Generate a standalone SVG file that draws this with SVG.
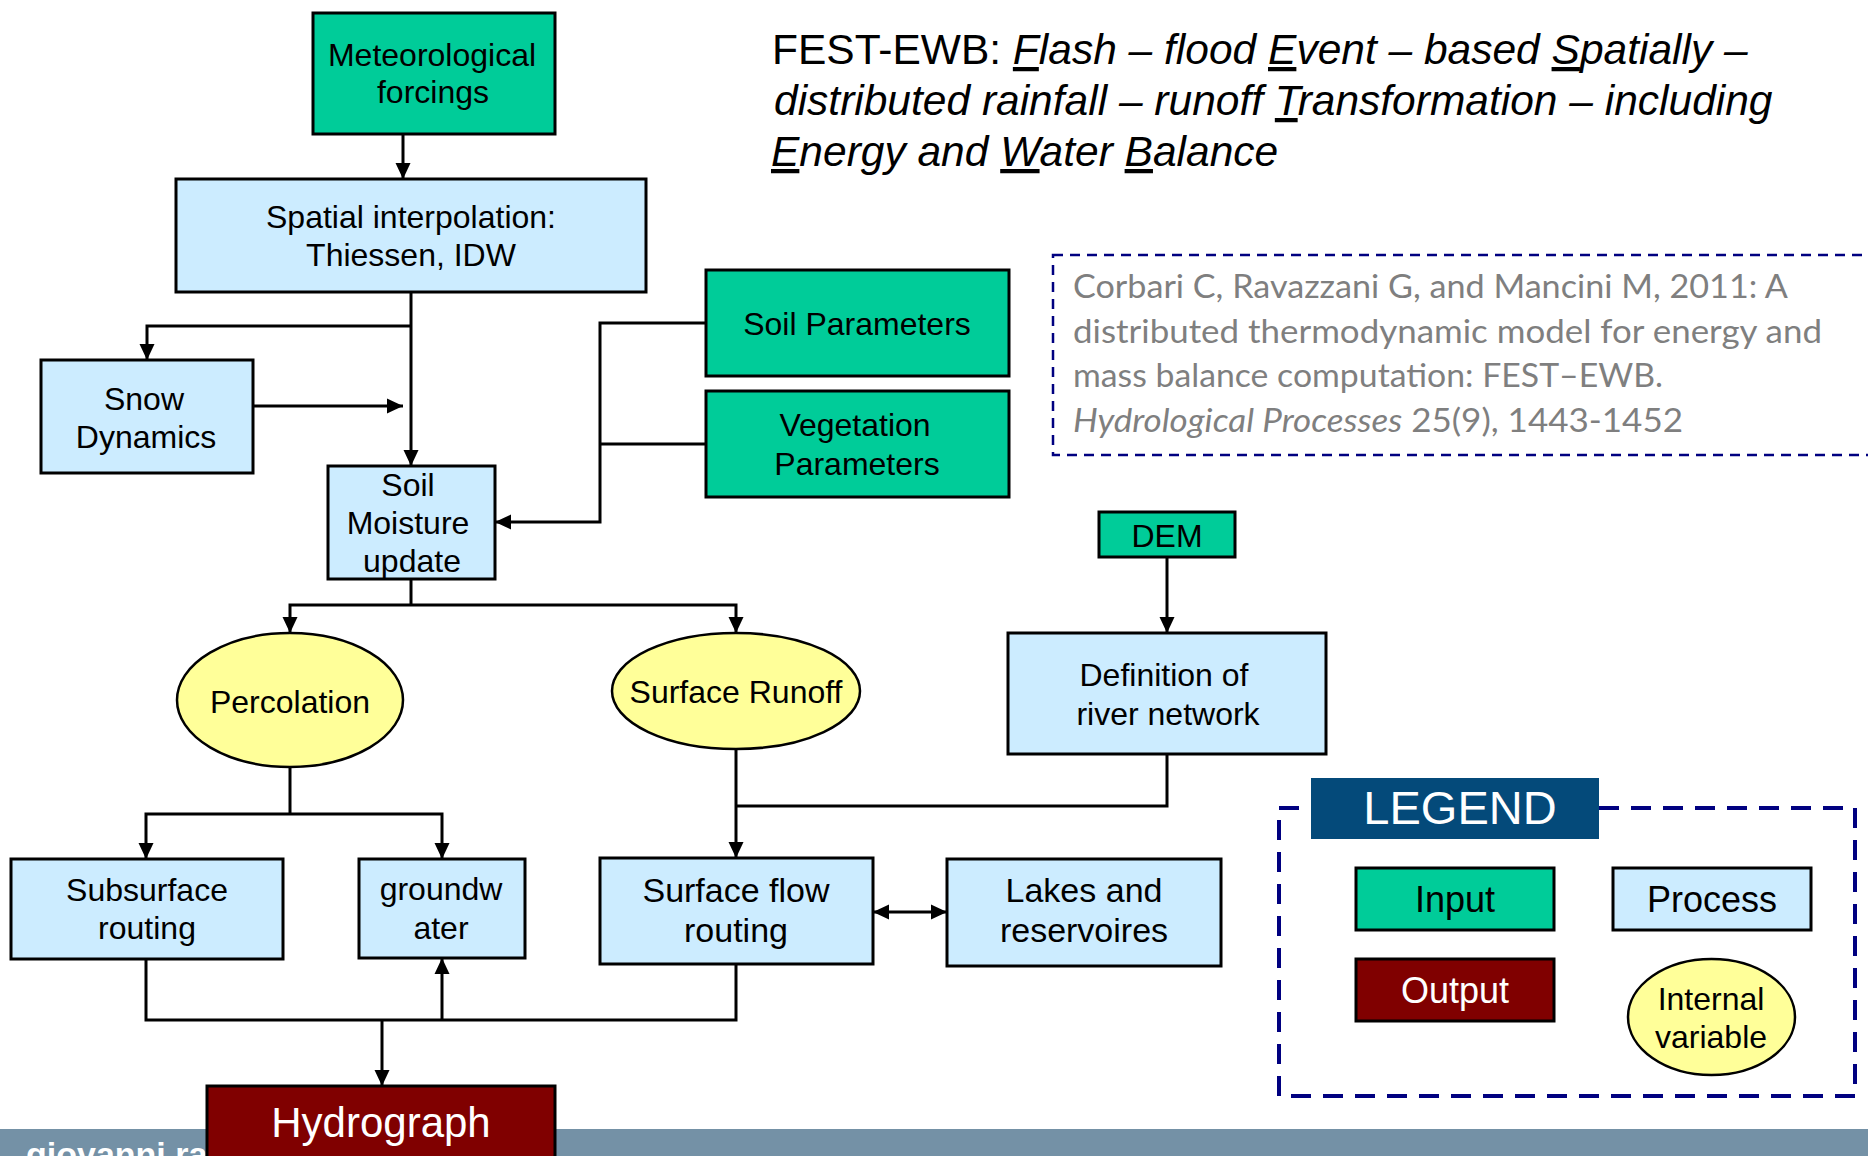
<svg xmlns="http://www.w3.org/2000/svg" width="1868" height="1156" viewBox="0 0 1868 1156">
<defs>
<marker id="arr" markerUnits="userSpaceOnUse" markerWidth="16" markerHeight="16" viewBox="0 0 16 16" refX="16" refY="8" orient="auto-start-reverse">
<path d="M0,0.5 L16,8 L0,15.5 z" fill="#000"/>
</marker>
<style>
.t{font-family:"Liberation Sans",Arial,sans-serif;font-size:32px;fill:#000;text-anchor:middle}
.inp{fill:#00CC99;stroke:#000;stroke-width:3}
.proc{fill:#CCECFF;stroke:#000;stroke-width:3}
.var{fill:#FFFF99;stroke:#000;stroke-width:2.5}
.out{fill:#800000;stroke:#000;stroke-width:3}
.c{fill:none;stroke:#000;stroke-width:3}
.cit{font-family:Lato,"Open Sans",sans-serif;font-size:33px;fill:#7F7F7F}
.ttl{font-family:"Liberation Sans",Arial,sans-serif;font-size:42.5px;fill:#000}
</style>
</defs>
<rect x="0" y="0" width="1868" height="1156" fill="#fff"/>

<!-- footer band -->
<g id="footer">
<rect x="0" y="1129" width="1868" height="27" fill="#7491A6"/>
<text x="26" y="1166" font-family="Liberation Sans,Arial,sans-serif" font-size="34" font-weight="bold" fill="#fff">giovanni ra</text>
</g>

<!-- title -->
<g id="title" class="ttl">
<text x="772" y="64">FEST-EWB: <tspan font-style="italic"><tspan text-decoration="underline">F</tspan>lash – flood <tspan text-decoration="underline">E</tspan>vent – based <tspan text-decoration="underline">S</tspan>patially –</tspan></text>
<text x="774" y="115" font-style="italic">distributed rainfall – runoff <tspan text-decoration="underline">T</tspan>ransformation – including</text>
<text x="771" y="166" font-style="italic"><tspan text-decoration="underline">E</tspan>nergy and <tspan text-decoration="underline">W</tspan>ater <tspan text-decoration="underline">B</tspan>alance</text>
</g>

<!-- citation -->
<g id="citation">
<rect x="1053" y="255" width="830" height="200" fill="none" stroke="#000080" stroke-width="2.5" stroke-dasharray="10 7"/>
<text class="cit" x="1073" y="298" textLength="715" lengthAdjust="spacingAndGlyphs">Corbari C, Ravazzani G, and Mancini M, 2011: A</text>
<text class="cit" x="1073" y="343" textLength="749" lengthAdjust="spacingAndGlyphs">distributed thermodynamic model for energy and</text>
<text class="cit" x="1073" y="387" textLength="590" lengthAdjust="spacingAndGlyphs">mass balance computation: FEST–EWB.</text>
<text class="cit" x="1073" y="432" textLength="610" lengthAdjust="spacingAndGlyphs"><tspan font-style="italic">Hydrological Processes</tspan> 25(9), 1443-1452</text>
</g>

<!-- connectors -->
<g id="connectors">
<path class="c" d="M403,134 V179" marker-end="url(#arr)"/>
<path class="c" d="M411,292 V466" marker-end="url(#arr)"/>
<path class="c" d="M411,326 H147 V360" marker-end="url(#arr)"/>
<path class="c" d="M253,406 H403" marker-end="url(#arr)"/>
<path class="c" d="M706,323 H600 V522 H495" marker-end="url(#arr)"/>
<path class="c" d="M706,444 H600"/>
<path class="c" d="M411,579 V605"/>
<path class="c" d="M411,605 H290 V633" marker-end="url(#arr)"/>
<path class="c" d="M411,605 H736 V633" marker-end="url(#arr)"/>
<path class="c" d="M1167,557 V633" marker-end="url(#arr)"/>
<path class="c" d="M1167,754 V806 H736"/>
<path class="c" d="M736,749 V858" marker-end="url(#arr)"/>
<path class="c" d="M290,767 V814"/>
<path class="c" d="M290,814 H146 V859" marker-end="url(#arr)"/>
<path class="c" d="M290,814 H442 V859" marker-end="url(#arr)"/>
<path class="c" d="M873,912 H947" marker-start="url(#arr)" marker-end="url(#arr)"/>
<path class="c" d="M146,959 V1020 H736 V964"/>
<path class="c" d="M442,1020 V958" marker-end="url(#arr)"/>
<path class="c" d="M382,1020 V1086" marker-end="url(#arr)"/>
</g>

<g id="met">
<rect class="inp" x="313" y="13" width="242" height="121"/>
<text class="t" x="432" y="66">Meteorological</text>
<text class="t" x="433" y="103">forcings</text>
</g>
<g id="spatial">
<rect class="proc" x="176" y="179" width="470" height="113"/>
<text class="t" x="411" y="228">Spatial interpolation:</text>
<text class="t" x="411" y="266">Thiessen, IDW</text>
</g>
<g id="snow">
<rect class="proc" x="41" y="360" width="212" height="113"/>
<text class="t" x="144" y="410">Snow</text>
<text class="t" x="146" y="448">Dynamics</text>
</g>
<g id="soilmoisture">
<rect class="proc" x="328" y="466" width="167" height="113"/>
<text class="t" x="408" y="496">Soil</text>
<text class="t" x="408" y="534">Moisture</text>
<text class="t" x="412" y="572">update</text>
</g>
<g id="soilparam">
<rect class="inp" x="706" y="270" width="303" height="106"/>
<text class="t" x="857" y="335">Soil Parameters</text>
</g>
<g id="vegparam">
<rect class="inp" x="706" y="391" width="303" height="106"/>
<text class="t" x="855" y="436">Vegetation</text>
<text class="t" x="857" y="475">Parameters</text>
</g>
<g id="dem">
<rect class="inp" x="1099" y="512" width="136" height="45"/>
<text class="t" x="1167" y="547">DEM</text>
</g>
<g id="rivernet">
<rect class="proc" x="1008" y="633" width="318" height="121"/>
<text class="t" x="1164" y="686">Definition of</text>
<text class="t" x="1168" y="725">river network</text>
</g>
<g id="percolation">
<ellipse class="var" cx="290" cy="700" rx="113" ry="67"/>
<text class="t" x="290" y="713">Percolation</text>
</g>
<g id="surfrunoff">
<ellipse class="var" cx="736" cy="691" rx="124" ry="58"/>
<text class="t" x="736" y="703">Surface Runoff</text>
</g>
<g id="subsurface">
<rect class="proc" x="11" y="859" width="272" height="100"/>
<text class="t" x="147" y="901">Subsurface</text>
<text class="t" x="147" y="939">routing</text>
</g>
<g id="groundwater">
<rect class="proc" x="359" y="859" width="166" height="99"/>
<text class="t" x="441" y="900">groundw</text>
<text class="t" x="441" y="939">ater</text>
</g>
<g id="surfflow">
<rect class="proc" x="600" y="858" width="273" height="106"/>
<text class="t" x="736" y="902" style="font-size:34px">Surface flow</text>
<text class="t" x="736" y="942" style="font-size:34px">routing</text>
</g>
<g id="lakes">
<rect class="proc" x="947" y="859" width="274" height="107"/>
<text class="t" x="1084" y="902" style="font-size:34px">Lakes and</text>
<text class="t" x="1084" y="942" style="font-size:34px">reservoires</text>
</g>
<g id="hydrograph">
<rect class="out" x="207" y="1086" width="348" height="90"/>
<text class="t" x="381" y="1137" style="fill:#fff;font-size:42px">Hydrograph</text>
</g>

<!-- legend -->
<g id="legend">
<rect x="1279" y="808" width="576" height="288" fill="none" stroke="#000080" stroke-width="4" stroke-dasharray="20 12"/>
<rect x="1311" y="778" width="288" height="61" fill="#044A7A"/>
<text class="t" x="1460" y="824" style="fill:#fff;font-size:47px">LEGEND</text>
<rect class="inp" x="1356" y="868" width="198" height="62" stroke-width="2.5"/>
<text class="t" x="1455" y="912" style="font-size:36px">Input</text>
<rect class="proc" x="1613" y="868" width="198" height="62" stroke-width="2.5"/>
<text class="t" x="1712" y="912" style="font-size:36px">Process</text>
<rect class="out" x="1356" y="959" width="198" height="62" stroke-width="2.5"/>
<text class="t" x="1455" y="1003" style="fill:#fff;font-size:36px">Output</text>
<ellipse class="var" cx="1711.5" cy="1017" rx="83.5" ry="58"/>
<text class="t" x="1711" y="1010">Internal</text>
<text class="t" x="1711" y="1048">variable</text>
</g>
</svg>
